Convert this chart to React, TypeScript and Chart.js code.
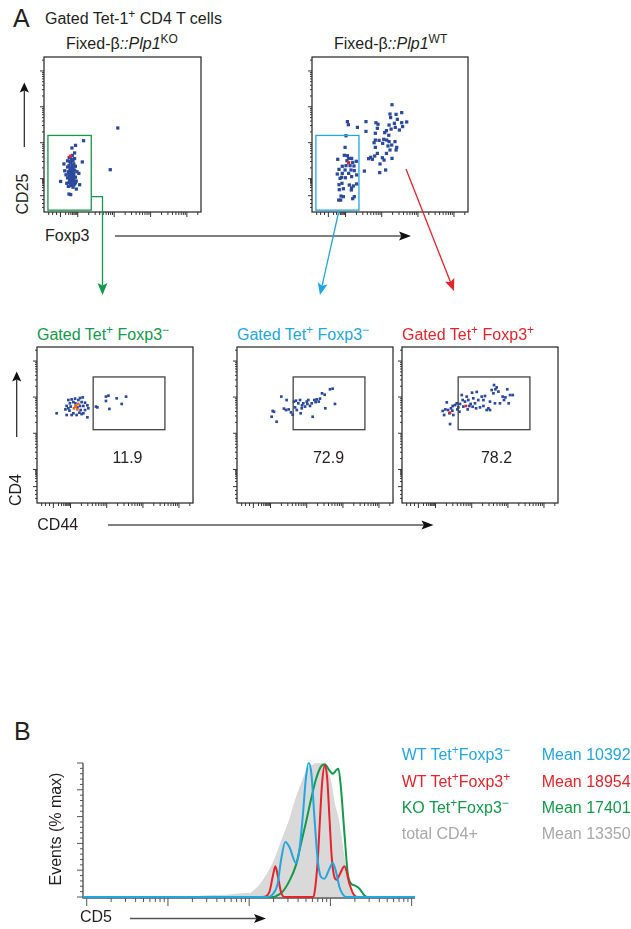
import React, { useEffect, useRef } from 'react';
import { Chart, registerables } from 'chart.js';

Chart.register(...registerables);

type P = [number, number];

// ---------------- Panel A data (channel units 0–1000 on biexponential display) ----------------
// Foxp3 (x) vs CD25 (y), Fixed-β::Plp1 KO
const koFoxp3CD25: P[] = [
  [470, 542], [422, 273],
  [252, 460], [201, 430], [178, 413], [195, 381], [244, 323], [127, 310], [132, 266], [222, 249],
  [106, 197], [227, 176], [206, 148], [159, 116], [170, 112],
  [160, 350], [175, 340], [185, 330], [170, 320], [190, 310], [160, 300], [180, 300], [200, 295],
  [150, 290], [170, 285], [185, 280], [165, 270], [195, 270], [155, 260], [175, 255], [190, 250],
  [170, 240], [160, 235], [185, 230], [200, 225], [150, 220], [175, 215], [190, 210], [165, 205],
  [180, 200], [160, 190], [200, 190], [145, 185], [175, 180], [190, 175], [170, 170], [155, 165],
  [185, 160], [205, 200], [140, 240], [210, 260], [165, 325], [180, 365], [150, 330], [195, 345],
  [170, 260], [182, 265], [158, 250], [172, 228], [188, 238], [162, 212], [178, 192], [196, 182],
];
const koHighlight: P[] = [[168, 359]];

// Foxp3 (x) vs CD25 (y), Fixed-β::Plp1 WT
const wtFoxp3CD25: P[] = [
  [218, 492], [212, 417], [207, 366], [165, 340], [235, 346], [254, 346], [261, 320], [284, 327],
  [194, 295], [218, 299], [244, 299], [269, 297], [173, 275], [212, 271], [250, 271], [162, 245],
  [194, 249], [235, 249], [271, 267], [180, 217], [214, 221], [254, 228], [286, 239], [173, 176],
  [192, 185], [239, 174], [265, 168], [201, 150], [252, 142], [175, 144], [186, 103], [201, 99],
  [271, 99], [261, 86], [184, 77], [171, 77], [286, 181], [224, 331], [190, 224], [227, 363], [254, 155],
  [513, 692], [500, 632], [539, 630], [575, 641], [504, 609], [547, 598], [607, 581], [575, 576],
  [528, 572], [494, 561], [581, 551], [534, 546], [507, 535], [560, 529], [477, 525], [410, 576],
  [423, 566], [419, 540], [346, 583], [227, 583], [233, 563], [291, 546], [346, 520], [406, 508],
  [466, 512], [492, 495], [460, 469], [406, 464], [430, 462], [494, 454], [511, 432], [453, 443],
  [487, 426], [500, 400], [477, 378], [451, 350], [462, 335], [436, 310], [376, 353], [387, 340],
  [402, 361], [363, 344], [336, 264], [434, 254], [472, 271], [543, 417], [539, 400], [513, 346],
  [419, 378], [406, 417], [398, 447], [532, 454], [479, 464],
];
const wtHighlight: P[] = [[235, 318]];

// CD44 (x) vs CD4 (y), gated Tet+ Foxp3− (KO)
const koNegCD44CD4: P[] = [
  [201, 660], [222, 664], [244, 669], [276, 673], [293, 677], [211, 639], [233, 647], [286, 647],
  [308, 643], [190, 622], [216, 618], [276, 622], [297, 622], [323, 626], [182, 600], [208, 592],
  [280, 596], [308, 596], [329, 607], [190, 564], [222, 564], [254, 564], [286, 570], [323, 549],
  [265, 660], [233, 575], [201, 607], [297, 575], [272, 579], [126, 575], [246, 639], [259, 613],
  [378, 618], [387, 613], [442, 682], [458, 688], [442, 654], [464, 603], [511, 671], [543, 635], [571, 682],
];
const koNegHighlight: P[] = [[250, 622], [265, 635], [237, 607], [259, 600], [246, 618]];

// CD44 (x) vs CD4 (y), gated Tet+ Foxp3− (WT)
const wtNegCD44CD4: P[] = [
  [284, 682], [318, 660], [222, 553], [229, 590], [237, 585], [254, 521], [301, 605], [314, 596],
  [331, 600], [346, 581], [357, 566], [365, 650], [378, 656], [393, 639], [404, 660], [417, 626],
  [425, 639], [436, 618], [447, 650], [457, 660], [468, 622], [479, 639], [485, 553], [496, 660],
  [511, 664], [524, 650], [532, 669], [545, 703], [562, 694], [566, 607], [596, 729], [613, 733],
  [628, 635], [372, 613], [415, 607], [451, 635], [504, 647], [408, 575], [383, 596],
];

// CD44 (x) vs CD4 (y), gated Tet+ Foxp3+ (WT)
const wtPosCD44CD4: P[] = [
  [261, 590], [270, 564], [278, 600], [287, 645], [295, 596], [304, 575], [308, 506], [314, 607],
  [323, 592], [329, 564], [340, 628], [351, 639], [361, 613], [372, 635], [383, 692], [389, 660],
  [393, 618], [404, 650], [415, 682], [425, 660], [432, 622], [440, 635], [449, 707], [457, 671],
  [468, 639], [479, 712], [489, 660], [500, 613], [511, 682], [522, 660], [532, 686], [543, 596],
  [554, 607], [564, 650], [575, 724], [586, 703], [590, 756], [599, 729], [607, 741], [618, 714],
  [628, 639], [645, 682], [654, 660], [663, 677], [675, 729], [684, 639], [693, 692], [710, 692],
  [453, 617], [355, 600], [421, 600], [325, 622], [475, 607], [522, 622], [564, 596], [596, 639], [368, 585],
];
const wtPosHighlight: P[] = [[308, 579], [410, 622]];

const foxp3NegGate = { x0: 25, x1: 301, y0: 12, y1: 494 };
const cd44HiGate = { x0: 360, x1: 820, y0: 470, y1: 808 };
const cd44HiPercent = ['11.9', '72.9', '78.2'];

// biexponential display ticks (channel units)
const flowMajorTicks = [105, 215, 447, 679, 910];
const flowDecades: P[] = [[105, 215], [215, 447], [447, 679], [679, 910], [910, 1141]];
const flowMinorTicks = [30, 55, 80].concat(
  ...flowDecades.map(([a, b]) => [2, 3, 4, 5, 6, 7, 8, 9].map((k) => a + Math.log10(k) * (b - a)).filter((v) => v < 1000))
);

// ---------------- Panel B data (CD5 histogram, % of max) ----------------
const cd5WtNeg = [9, 1687, 1945, 2244, 2465, 2788, 3126, 3776, 4150, 4560, 5012, 5404, 5834, 6353, 6982, 7674, 8433, 9727, 10691, 11749, 12912, 14190, 15631, 110000];
const pctWtNeg = [0, 0, 2, 10, 27.4, 41, 37.3, 25.4, 34.8, 59.7, 89.6, 100, 92, 59.7, 27.4, 14.9, 13.7, 21.1, 25.4, 18.7, 7.5, 2, 0, 0];

const cd5WtPos = [9, 1463, 1770, 1945, 2099, 2265, 2465, 2710, 6053, 6353, 6982, 7464, 7892, 8511, 9100, 9727, 10376, 11194, 11967, 13152, 14894, 17140, 19230, 21727, 110000];
const pctWtPos = [0, 0, 3.7, 15, 22.9, 14.9, 3.7, 0, 0, 2.5, 27.4, 59.7, 84.6, 98.3, 89.6, 59.7, 29.9, 14.9, 12.9, 17.4, 22.9, 10, 2, 0, 0];

const cd5KoNeg = [9, 1945, 2140, 2583, 3126, 3776, 4348, 5012, 5781, 6653, 7674, 8511, 9727, 10691, 11749, 12560, 13552, 14894, 16368, 17989, 19770, 22803, 26242, 28840, 110000];
const pctKoNeg = [0, 0, 0.7, 4, 12, 24, 40, 56, 73, 88, 97.5, 99, 94.5, 92, 94.5, 95.8, 79.6, 47.3, 17.4, 10, 8.7, 6.2, 1.2, 0, 0];

const cd5Total = [9, 199, 322, 568, 871, 1003, 1156, 1333, 1535, 1770, 2038, 2350, 2710, 3126, 3597, 3955, 4560, 5250, 6053, 6982, 8054, 9268, 10209, 11194, 12331, 13552, 14894, 16368, 17989, 19770, 110000];
const pctTotal = [0, 0.3, 1, 1.5, 2.5, 2.5, 5, 8.7, 13.7, 19.9, 27.4, 37.3, 47.3, 57.2, 69.7, 77.1, 87.1, 95.8, 98.3, 100, 99, 94.5, 84.6, 69.7, 59.7, 44.8, 27.4, 12.4, 3.7, 0, 0];

const legendLabels = ['WT', 'WT', 'KO', 'total CD4+'];
const legendMeans = ['Mean 10392', 'Mean 18954', 'Mean 17401', 'Mean 13350'];

const cd5MajorTicks = [10, 100, 1000, 10000, 100000];
const cd5MinorTicks = [10, 100, 1000, 10000].flatMap((d) => [2, 3, 4, 5, 6, 7, 8, 9].map((k) => k * d));
const eventsMajorTicks = [0, 20, 40, 60, 80, 100];
const eventsMinorTicks = [4, 8, 12, 16, 24, 28, 32, 36, 44, 48, 52, 56, 64, 68, 72, 76, 84, 88, 92, 96];

// ---------------- styles ----------------
const FONT = '"Liberation Sans", Arial, Helvetica, sans-serif';
const INK = '#231f20';
const DOT = '#2b4a9c';
const GREEN = '#12994a';
const CYAN = '#22a6e0';
const RED = '#e4232b';
const ORANGE = '#ee6a24';
const GRAY_TXT = '#a8a8a8';

const flowDecor = {
  id: 'flowDecor',
  afterDatasetsDraw(chart: any, _args: any, o: any) {
    const { ctx, chartArea: a, scales } = chart;
    const x = scales.x, y = scales.y;
    ctx.save();
    if (o.gate) {
      const g = o.gate;
      const x0 = x.getPixelForValue(g.x0), x1 = x.getPixelForValue(g.x1);
      const y0 = y.getPixelForValue(g.y0), y1 = y.getPixelForValue(g.y1);
      ctx.strokeStyle = o.gateColor;
      ctx.lineWidth = 1.3;
      ctx.strokeRect(x0, y1, x1 - x0, y0 - y1);
    }
    ctx.strokeStyle = '#222';
    ctx.lineWidth = 1.2;
    ctx.strokeRect(a.left, a.top, a.right - a.left, a.bottom - a.top);
    ctx.lineWidth = 1;
    ctx.strokeStyle = '#333';
    ctx.beginPath();
    const tick = (vals: number[], lenX: number, lenY: number) => {
      for (const v of vals) {
        const px = x.getPixelForValue(v);
        ctx.moveTo(px, a.bottom);
        ctx.lineTo(px, a.bottom + lenX);
        const py = y.getPixelForValue(v);
        ctx.moveTo(a.left, py);
        ctx.lineTo(a.left - lenY, py);
      }
    };
    tick(o.majors, 5, 4);
    tick(o.minors, 3, 2);
    ctx.stroke();
    ctx.restore();
  },
};

const histAxes = {
  id: 'histAxes',
  beforeDatasetsDraw(chart: any, _args: any, o: any) {
    const { ctx, chartArea: a, scales } = chart;
    const x = scales.x, y = scales.y;
    ctx.save();
    ctx.strokeStyle = '#555';
    ctx.lineWidth = 1.4;
    ctx.beginPath();
    ctx.moveTo(a.left, a.top);
    ctx.lineTo(a.left, a.bottom + 1);
    ctx.lineTo(a.right, a.bottom + 1);
    ctx.stroke();
    ctx.lineWidth = 1;
    ctx.beginPath();
    for (const v of o.xMajor) { const p = x.getPixelForValue(v); ctx.moveTo(p, a.bottom + 1); ctx.lineTo(p, a.bottom + 9); }
    for (const v of o.xMinor) { const p = x.getPixelForValue(v); ctx.moveTo(p, a.bottom + 1); ctx.lineTo(p, a.bottom + 5); }
    for (const v of o.yMajor) { const p = y.getPixelForValue(v); ctx.moveTo(a.left, p); ctx.lineTo(a.left - 6, p); }
    for (const v of o.yMinor) { const p = y.getPixelForValue(v); ctx.moveTo(a.left, p); ctx.lineTo(a.left - 3, p); }
    ctx.stroke();
    ctx.restore();
  },
};

const toXY = (pts: P[]) => pts.map(([x, y]) => ({ x, y }));
const zipXY = (xs: number[], ys: number[]) => xs.map((x, i) => ({ x, y: ys[i] }));

function FlowPlot(props: any) {
  const { left, top, w, h, dots, hi, hiColor, gate, gateColor, r } = props;
  const ref = useRef<HTMLCanvasElement>(null);
  const pad = 10;
  useEffect(() => {
    const chart = new Chart(ref.current as HTMLCanvasElement, {
      type: 'scatter',
      data: {
        datasets: [
          { data: toXY(hi), backgroundColor: hiColor, borderWidth: 0, pointStyle: 'rect', pointRadius: r },
          { data: toXY(dots), backgroundColor: DOT, borderWidth: 0, pointStyle: 'rect', pointRadius: r },
        ],
      },
      options: {
        responsive: false,
        animation: false,
        devicePixelRatio: 1,
        events: [],
        layout: { padding: pad },
        scales: {
          x: { type: 'linear', min: 0, max: 1000, display: false },
          y: { type: 'linear', min: 0, max: 1000, display: false },
        },
        plugins: {
          legend: { display: false },
          tooltip: { enabled: false },
          flowDecor: { gate, gateColor, majors: flowMajorTicks, minors: flowMinorTicks },
        } as any,
      },
      plugins: [flowDecor],
    } as any);
    return () => chart.destroy();
  }, []);
  return (
    <canvas
      ref={ref}
      width={w + 2 * pad}
      height={h + 2 * pad}
      style={{ position: 'absolute', left: left - pad, top: top - pad, width: w + 2 * pad, height: h + 2 * pad }}
    />
  );
}

function HistPlot() {
  const ref = useRef<HTMLCanvasElement>(null);
  useEffect(() => {
    const line = (xs: number[], ys: number[], color: string) => ({
      data: zipXY(xs, ys),
      borderColor: color,
      backgroundColor: color,
      borderWidth: 2,
      pointRadius: 0,
      tension: 0.4,
      cubicInterpolationMode: 'monotone',
      fill: false,
      clip: false,
    });
    const chart = new Chart(ref.current as HTMLCanvasElement, {
      type: 'line',
      data: {
        datasets: [
          line(cd5WtNeg, pctWtNeg, CYAN),
          line(cd5WtPos, pctWtPos, RED),
          line(cd5KoNeg, pctKoNeg, GREEN),
          {
            data: zipXY(cd5Total, pctTotal),
            borderColor: '#d6d6d6',
            backgroundColor: '#d9d9d9',
            borderWidth: 1,
            pointRadius: 0,
            tension: 0.2,
            cubicInterpolationMode: 'monotone',
            fill: 'origin',
          },
        ],
      },
      options: {
        responsive: false,
        animation: false,
        devicePixelRatio: 1,
        events: [],
        layout: { padding: { left: 43, top: 13, right: 25, bottom: 23 } },
        scales: {
          x: { type: 'logarithmic', min: 9, max: 110000, display: false },
          y: { type: 'linear', min: 0, max: 100, display: false },
        },
        plugins: {
          legend: { display: false },
          tooltip: { enabled: false },
          histAxes: { xMajor: cd5MajorTicks, xMinor: cd5MinorTicks, yMajor: eventsMajorTicks, yMinor: eventsMinorTicks },
        } as any,
      },
      plugins: [histAxes],
    } as any);
    return () => chart.destroy();
  }, []);
  return <canvas ref={ref} width={400} height={170} style={{ position: 'absolute', left: 40, top: 750, width: 400, height: 170 }} />;
}

function Txt(props: any) {
  const { x, y, size = 16, color = INK, anchor = 'start', children } = props;
  return (
    <div
      style={{
        position: 'absolute',
        left: x,
        top: y - 0.8465 * size,
        fontSize: size,
        lineHeight: `${size}px`,
        color,
        whiteSpace: 'nowrap',
        fontFamily: FONT,
        transform: anchor === 'middle' ? 'translateX(-50%)' : undefined,
      }}
    >
      {children}
    </div>
  );
}

function VTxt(props: any) {
  const { cx, cy, size = 16, children } = props;
  return (
    <div
      style={{
        position: 'absolute',
        left: cx,
        top: cy,
        fontSize: size,
        lineHeight: `${size}px`,
        color: INK,
        whiteSpace: 'nowrap',
        fontFamily: FONT,
        transform: 'translate(-50%,-50%) rotate(-90deg)',
      }}
    >
      {children}
    </div>
  );
}

const Sup = (props: any) => (
  <span style={{ fontSize: '0.75em', position: 'relative', top: '-0.5em' }}>{props.children}</span>
);

function arrowGeom(pts: number[][], L: number, W: number) {
  const [x1, y1] = pts[pts.length - 2];
  const [x2, y2] = pts[pts.length - 1];
  const len = Math.hypot(x2 - x1, y2 - y1);
  const ux = (x2 - x1) / len, uy = (y2 - y1) / len;
  const nx = -uy, ny = ux;
  const bx = x2 - ux * L, by = y2 - uy * L;
  const mx = x2 - ux * L * 0.8, my = y2 - uy * L * 0.8;
  const head = `${x2},${y2} ${bx + nx * W},${by + ny * W} ${mx},${my} ${bx - nx * W},${by - ny * W}`;
  const linePts = pts.slice(0, -1).concat([[mx, my]]).map((p) => p.join(',')).join(' ');
  return { head, linePts };
}

const arrows = [
  { pts: [[24.3, 147], [24.3, 82.5]], line: '#222', head: '#111', L: 10, W: 4.6, lw: 1.2 },
  { pts: [[115, 236], [411, 236]], line: '#555', head: '#111', L: 12, W: 4.6, lw: 1.3 },
  { pts: [[91.5, 196.7], [102.5, 196.7], [102.5, 295]], line: GREEN, head: GREEN, L: 12, W: 5, lw: 1.3 },
  { pts: [[339, 210.5], [320, 295]], line: CYAN, head: CYAN, L: 12, W: 5, lw: 1.3 },
  { pts: [[406, 169], [454, 291]], line: RED, head: RED, L: 12, W: 5, lw: 1.3 },
  { pts: [[16.7, 437], [16.7, 371.5]], line: '#222', head: '#111', L: 10, W: 4.6, lw: 1.2 },
  { pts: [[108, 525], [433.5, 525]], line: '#555', head: '#111', L: 12, W: 4.6, lw: 1.3 },
  { pts: [[130, 918.5], [266, 918.5]], line: '#555', head: '#111', L: 12, W: 4.6, lw: 1.3 },
];

const bottomFrames = [
  { left: 37, dots: koNegCD44CD4, hi: koNegHighlight, hiColor: ORANGE, title: GREEN, pos: false, numX: 127.5 },
  { left: 237, dots: wtNegCD44CD4, hi: [] as P[], hiColor: RED, title: CYAN, pos: false, numX: 328.5 },
  { left: 402, dots: wtPosCD44CD4, hi: wtPosHighlight, hiColor: RED, title: RED, pos: true, numX: 496.5 },
];

const legendColors = [CYAN, RED, GREEN, GRAY_TXT];
const legendSup = ['+', '+', '+'];
const legendSup2 = ['\u2212', '+', '\u2212'];
const legendBase = [760.7, 787.3, 813.5, 839.3];

export default function App() {
  return (
    <div
      style={{
        position: 'absolute',
        left: 0,
        top: 0,
        width: 631,
        height: 929,
        overflow: 'hidden',
        background: '#fff',
        fontFamily: FONT,
      }}
    >
      {/* Panel A, top row */}
      <Txt x={13} y={27} size={25}>A</Txt>
      <Txt x={45} y={25}>Gated Tet-1<Sup>+</Sup> CD4 T cells</Txt>
      <Txt x={66} y={50}>Fixed-β<i>::Plp1</i><Sup>KO</Sup></Txt>
      <Txt x={334} y={50}>Fixed-β<i>::Plp1</i><Sup>WT</Sup></Txt>
      <FlowPlot left={44} top={57} w={157} h={155} dots={koFoxp3CD25} hi={koHighlight} hiColor={RED}
        gate={foxp3NegGate} gateColor={GREEN} r={2.3} />
      <FlowPlot left={312} top={57} w={156} h={155} dots={wtFoxp3CD25} hi={wtHighlight} hiColor={RED}
        gate={foxp3NegGate} gateColor={CYAN} r={2.3} />
      <VTxt cx={23} cy={194}>CD25</VTxt>
      <Txt x={45} y={241.7}>Foxp3</Txt>

      {/* Panel A, bottom row */}
      {bottomFrames.map((f, i) => (
        <React.Fragment key={i}>
          <Txt x={f.left} y={340.7} color={f.title}>
            Gated Tet<Sup>+</Sup> Foxp3<Sup>{f.pos ? '+' : '\u2212'}</Sup>
          </Txt>
          <FlowPlot left={f.left} top={347} w={156} h={156} dots={f.dots} hi={f.hi} hiColor={f.hiColor}
            gate={cd44HiGate} gateColor="#444" r={1.9} />
          <Txt x={f.numX} y={463.4} anchor="middle">{cd44HiPercent[i]}</Txt>
        </React.Fragment>
      ))}
      <VTxt cx={16.3} cy={489.5}>CD4</VTxt>
      <Txt x={37.3} y={530.5}>CD44</Txt>

      {/* Panel B */}
      <Txt x={14} y={740} size={25}>B</Txt>
      <HistPlot />
      <VTxt cx={56} cy={829}>Events (% max)</VTxt>
      <Txt x={80} y={922.3}>CD5</Txt>
      {legendLabels.map((lab, i) => (
        <React.Fragment key={i}>
          <Txt x={401.7} y={legendBase[i]} color={legendColors[i]}>
            {i < 3 ? (
              <>
                {lab} Tet<Sup>{legendSup[i]}</Sup>Foxp3<Sup>{legendSup2[i]}</Sup>
              </>
            ) : lab}
          </Txt>
          <Txt x={541.7} y={legendBase[i]} color={legendColors[i]}>{legendMeans[i]}</Txt>
        </React.Fragment>
      ))}

      {/* arrows and gate connectors */}
      <svg width={631} height={929} style={{ position: 'absolute', left: 0, top: 0, pointerEvents: 'none' }}>
        {arrows.map((a, i) => {
          const g = arrowGeom(a.pts, a.L, a.W);
          return (
            <g key={i}>
              <polyline points={g.linePts} fill="none" stroke={a.line} strokeWidth={a.lw} />
              <polygon points={g.head} fill={a.head} />
            </g>
          );
        })}
      </svg>
    </div>
  );
}
